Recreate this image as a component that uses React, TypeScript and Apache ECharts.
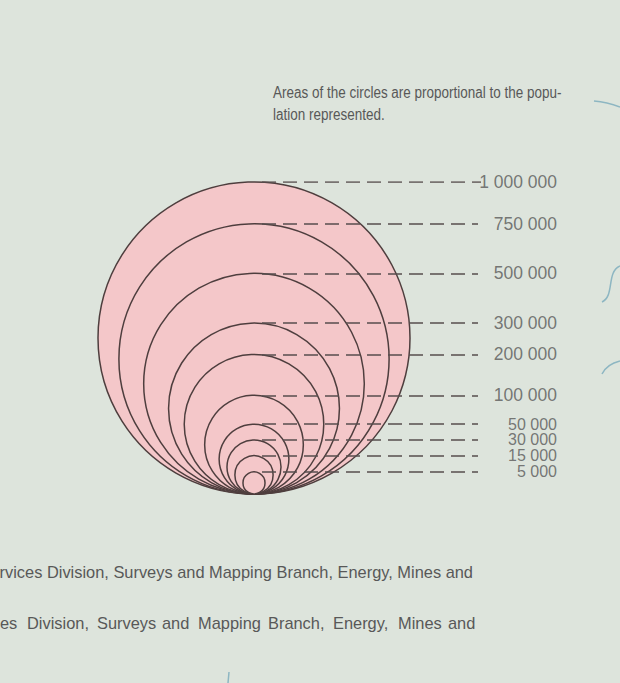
import React, { useEffect, useRef } from "react";
import * as echarts from "echarts";

// ---- data ----
const POPULATIONS = [1000000, 750000, 500000, 300000, 200000, 100000, 50000, 30000, 15000, 5000];
const LABELS = ["1 000 000", "750 000", "500 000", "300 000", "200 000", "100 000", "50 000", "30 000", "15 000", "5 000"];
const MAX_POP = 1000000;

const TITLE_LINES = ["Areas of the circles are proportional to the popu-", "lation represented."];
const SOURCE_LINE_1 = "rvices Division, Surveys and Mapping Branch, Energy, Mines and";
const SOURCE_LINE_2_WORDS = ["es", "Division,", "Surveys", "and", "Mapping", "Branch,", "Energy,", "Mines", "and"];

// ---- layout ----
const W = 620;
const H = 683;
const UNIT_PX = 312; // pixel diameter of the largest circle
const GRID_LEFT = 98;
const GRID_TOP = 182;
const X_MAX = 1.5;
const CENTER_X = 0.5;
const LINE_START = CENTER_X + 8 / UNIT_PX;
const LINE_END = (478 - GRID_LEFT) / UNIT_PX;
const LINE_END_FIRST = (481 - GRID_LEFT) / UNIT_PX;
const LABEL_X = (557 - GRID_LEFT) / UNIT_PX;
const WORD_X = [0, 27, 97, 162, 198, 268, 333, 398, 448];
const SMALL_LABEL_FROM = 6; // index from which labels are set tighter

const FONT = "Liberation Sans, Arial, Helvetica, sans-serif";
const TEXT_COLOR = "#585858";
const STROKE = "#4e3e3e";
const BLUE = "#8db6c2";

export default function App() {
  const ref = useRef<HTMLDivElement>(null);

  useEffect(() => {
    document.body.style.margin = "0";
    if (!ref.current) return;
    const chart = echarts.init(ref.current, null, { renderer: "svg" });

    const diam = (p: number) => Math.sqrt(p / MAX_POP);

    const option: any = {
      animation: false,
      backgroundColor: "#dde4dc",
      grid: { left: GRID_LEFT, top: GRID_TOP, width: UNIT_PX * X_MAX, height: UNIT_PX },
      xAxis: { type: "value", min: 0, max: X_MAX, show: false },
      yAxis: { type: "value", min: 0, max: 1, show: false },
      series: [
        {
          type: "scatter",
          silent: true,
          z: 1,
          data: POPULATIONS.map((p) => ({
            value: [CENTER_X, diam(p) / 2],
            symbolSize: diam(p) * UNIT_PX,
          })),
          itemStyle: { color: "#f4c7c9", borderColor: STROKE, borderWidth: 1.5, opacity: 1 },
        },
        {
          type: "lines",
          coordinateSystem: "cartesian2d",
          silent: true,
          z: 2,
          data: POPULATIONS.map((p, i) => ({
            coords: [
              [LINE_START, diam(p)],
              [i === 0 ? LINE_END_FIRST : LINE_END, diam(p)],
            ],
          })),
          lineStyle: { color: "#574d4d", width: 1.5, type: [14, 7], opacity: 1 },
        },
        {
          type: "scatter",
          silent: true,
          z: 3,
          symbolSize: 0,
          data: POPULATIONS.map((p, i) => ({
            value: [LABEL_X, diam(p)],
            name: LABELS[i],
            label: i >= SMALL_LABEL_FROM ? { fontSize: 16, lineHeight: 12 } : undefined,
          })),
          label: {
            show: true,
            position: "left",
            distance: 0,
            formatter: (params: any) => params.name,
            color: TEXT_COLOR,
            fontSize: 17.5,
            lineHeight: 13,
            fontFamily: FONT,
          },
        },
      ],
      graphic: [
        ...TITLE_LINES.map((t, i) => ({
          type: "text",
          x: 273,
          y: 92 + i * 22,
          scaleX: 0.823,
          silent: true,
          style: { text: t, font: `16.4px ${FONT}`, fill: TEXT_COLOR, textVerticalAlign: "middle" },
        })),
        {
          type: "text",
          x: 473,
          y: 572,
          silent: true,
          style: {
            text: SOURCE_LINE_1,
            font: `16.4px ${FONT}`,
            fill: TEXT_COLOR,
            textAlign: "right",
            textVerticalAlign: "middle",
          },
        },
        ...SOURCE_LINE_2_WORDS.map((w, i) => ({
          type: "text",
          x: WORD_X[i],
          y: 623,
          silent: true,
          style: { text: w, font: `16.4px ${FONT}`, fill: TEXT_COLOR, textVerticalAlign: "middle" },
        })),
        {
          type: "bezierCurve",
          silent: true,
          shape: { x1: 594, y1: 101, cpx1: 607, cpy1: 102, x2: 620, y2: 107 },
          style: { stroke: BLUE, lineWidth: 1.5, fill: "none" },
        },
        {
          type: "bezierCurve",
          silent: true,
          shape: { x1: 602, y1: 302, cpx1: 615, cpy1: 296, cpx2: 606, cpy2: 272, x2: 620, y2: 266 },
          style: { stroke: BLUE, lineWidth: 1.5, fill: "none" },
        },
        {
          type: "bezierCurve",
          silent: true,
          shape: { x1: 602, y1: 374, cpx1: 607, cpy1: 364, x2: 620, y2: 361 },
          style: { stroke: BLUE, lineWidth: 1.5, fill: "none" },
        },
        {
          type: "line",
          silent: true,
          shape: { x1: 229, y1: 672, x2: 228, y2: 683 },
          style: { stroke: BLUE, lineWidth: 1.5 },
        },
      ],
    };

    chart.setOption(option);
    return () => chart.dispose();
  }, []);

  return <div ref={ref} style={{ width: W, height: H }} />;
}
